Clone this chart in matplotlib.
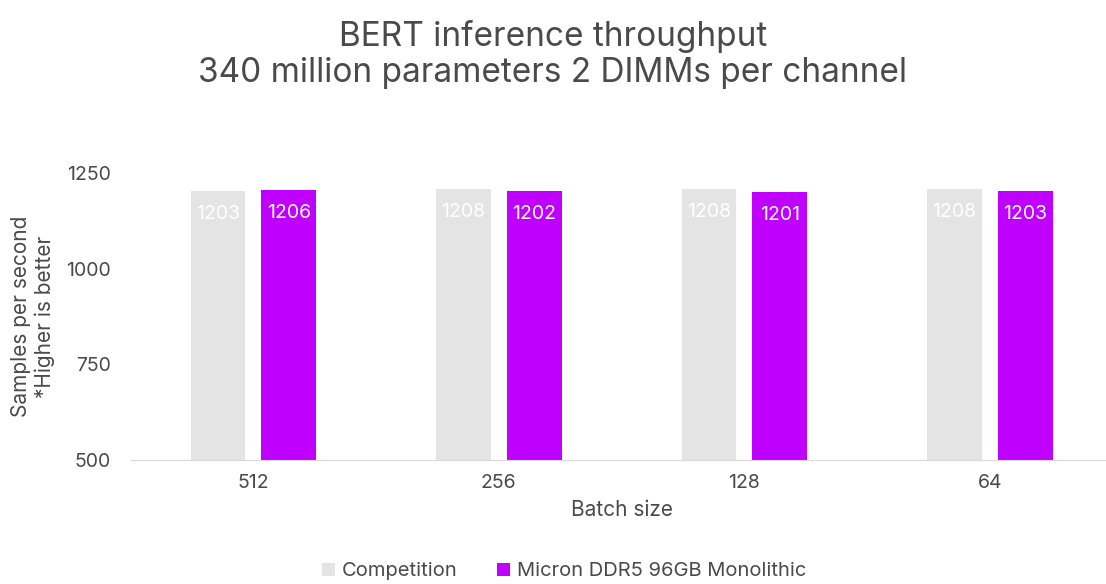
import matplotlib
matplotlib.use("Agg")
import matplotlib.pyplot as plt
import numpy as np

categories = ["512", "256", "128", "64"]
competition = [1203, 1208, 1208, 1208]
micron = [1206, 1202, 1201, 1203]
series_names = ["Competition", "Micron DDR5 96GB Monolithic"]
yticks = [500, 750, 1000, 1250]

plt.rcParams['font.family'] = ['Inter', 'DejaVu Sans']
txt = '#4a4a4a'

fig = plt.figure(figsize=(11.06, 5.84), dpi=100)
ax = fig.add_axes([0.118, 0.212, 0.888, 0.492])

x = np.arange(len(categories))
w = 0.223
off = 0.144
b1 = ax.bar(x - off, np.array(competition) - 500, w, bottom=500, color='#e4e4e4', label=series_names[0])
b2 = ax.bar(x + off, np.array(micron) - 500, w, bottom=500, color='#bf00ff', label=series_names[1])
for bars, vals in ((b1, competition), (b2, micron)):
    for r, v in zip(bars, vals):
        ax.text(r.get_x() + r.get_width() / 2, v - 60, str(v), ha='center', va='center',
                color='white', fontsize=14)

ax.set_xlim(-0.5, len(categories) - 0.5)
ax.set_ylim(500, 1250)
ax.set_yticks(yticks)
ax.set_xticks(x)
ax.set_xticklabels(categories)
ax.tick_params(axis='both', length=0, labelsize=14, colors=txt)
ax.tick_params(axis='y', pad=14)
ax.tick_params(axis='x', pad=10)
for s in ['top', 'right', 'left']:
    ax.spines[s].set_visible(False)
ax.spines['bottom'].set_color('#d9d9d9')
ax.set_xlabel("Batch size", fontsize=15, color=txt, labelpad=6)
ax.set_ylabel("Samples per second\n*Higher is better", fontsize=15, color=txt, labelpad=8)

fig.suptitle("BERT inference throughput\n340 million parameters 2 DIMMs per channel",
             y=0.965, fontsize=24, color=txt, linespacing=1.15)

fig.legend(handles=[b1, b2], labels=series_names, loc='lower center', ncol=2,
           bbox_to_anchor=(0.51, -0.025), frameon=False, fontsize=14.5, labelcolor=txt,
           handlelength=0.65, handleheight=0.65, handletextpad=0.3, columnspacing=2.0)

fig.savefig("out.png", dpi=100)
